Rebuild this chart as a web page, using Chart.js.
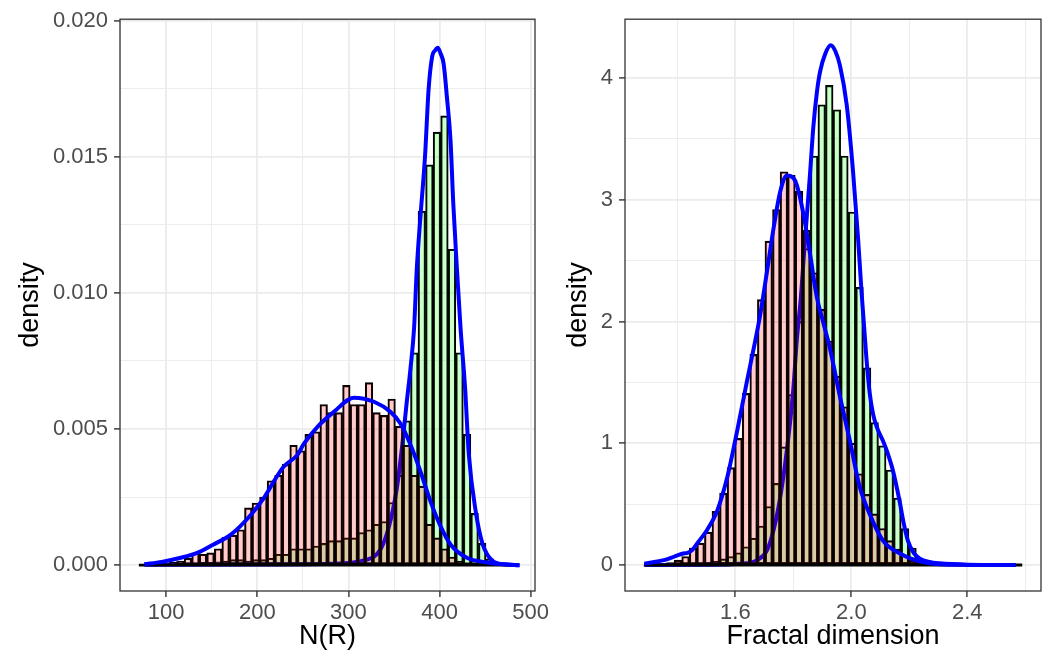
<!DOCTYPE html>
<html>
<head>
<meta charset="utf-8">
<script src="https://cdn.jsdelivr.net/npm/chart.js@4.4.1/dist/chart.umd.min.js"></script>
<style>
  body { margin: 0; background: #fff; }
  #wrap { position: relative; width: 1047px; height: 659px; }
  #left { position: absolute; left: 0; top: 0; }
  #right { position: absolute; left: 558px; top: 0; }
</style>
</head>
<body>
<div id="wrap">
  <canvas id="left" width="558" height="659"></canvas>
  <canvas id="right" width="489" height="659"></canvas>
</div>
<script>
// ---- N(R) panel ----
const nrBinStart = 70;
const nrBinWidth = 8.28;
const nrRed = [0, 0, 0, 0.00005, 0.0001, 0.00015, 0.00025, 0.00044, 0.0004, 0.00045,
  0.0006, 0.00102, 0.0011, 0.0013, 0.0021, 0.00228, 0.0025, 0.0031, 0.0033, 0.0037,
  0.0044, 0.0042, 0.0048, 0.0049, 0.0059, 0.0056, 0.0056, 0.0066, 0.0059, 0.0059,
  0.0067, 0.0056, 0.0055, 0.0061, 0.0051, 0.0044, 0.0033, 0.0029, 0.0015, 0.001,
  0.0006, 0.0003, 0.00015, 0.00005, 0, 0, 0, 0, 0, 0];
const nrGreen = [0, 0, 0, 0, 0.00002, 0.00003, 0.00005, 0.00007, 0.0001, 0.0001,
  0.00012, 0.00015, 0.0002, 0.0002, 0.00015, 0.0002, 0.0002, 0.00025, 0.0004, 0.0004,
  0.0006, 0.0006, 0.0006, 0.0007, 0.0008, 0.0009, 0.0009, 0.001, 0.001, 0.0012,
  0.0013, 0.0015, 0.0016, 0.0023, 0.0033, 0.0053, 0.0078, 0.013, 0.0147, 0.0159,
  0.0165, 0.0116, 0.0078, 0.0048, 0.0019, 0.0008, 0.00023, 0.00003, 0, 0];
const nrRedDensX = [76, 95, 116, 134, 152, 171, 193, 207, 218, 229, 244, 251, 266, 284,
  306, 328, 346, 357, 368, 379, 390, 401, 412, 430, 452, 470, 487];
const nrRedDensY = [0.00003, 0.00012, 0.00027, 0.00045, 0.00076, 0.00112, 0.00185, 0.00246,
  0.00307, 0.00362, 0.00405, 0.00445, 0.00508, 0.00563, 0.00615, 0.006, 0.00563, 0.0052,
  0.00443, 0.00344, 0.00234, 0.00143, 0.00076, 0.00027, 0.0001, 0.00003, 0];
const nrGreenDensX = [76, 200, 280, 320, 335, 344, 353, 359, 364, 368, 372, 375, 379, 384,
  388, 392, 395, 398, 401, 404.5, 408, 412, 415, 419, 423, 428, 432, 440, 447, 458, 473, 488];
const nrGreenDensY = [0.00001, 0.00002, 0.00005, 0.0002, 0.00057, 0.00136, 0.0028, 0.0044,
  0.006, 0.0072, 0.0087, 0.0109, 0.0128, 0.015, 0.0175, 0.0187, 0.0189, 0.019, 0.0188,
  0.0184, 0.0172, 0.0156, 0.0133, 0.0109, 0.0087, 0.0065, 0.0041, 0.0019, 0.0008,
  0.00016, 0.00002, 0];
const nrMajorX = [100, 200, 300, 400, 500];
const nrMinorX = [50, 150, 250, 350, 450];
const nrMajorY = [0, 0.005, 0.01, 0.015, 0.02];
const nrMinorY = [0.0025, 0.0075, 0.0125, 0.0175];

// ---- Fractal dimension panel ----
const fdBinStart = 1.2845;
const fdBinWidth = 0.0261;
const fdRed = [0, 0.005, 0.01, 0.02, 0.04, 0.07, 0.14, 0.18, 0.27, 0.44,
  0.59, 0.8, 1.04, 1.41, 1.73, 2.18, 2.66, 2.92, 3.23, 3.2,
  3.07, 2.75, 2.4, 2.1, 1.84, 1.55, 1.3, 1.0, 0.75, 0.58,
  0.42, 0.3, 0.2, 0.13, 0.08, 0.04, 0.02, 0.01, 0.005, 0,
  0, 0, 0, 0, 0, 0, 0, 0, 0, 0];
const fdGreen = [0, 0, 0, 0, 0, 0.005, 0.01, 0.015, 0.02, 0.03,
  0.05, 0.07, 0.1, 0.15, 0.22, 0.32, 0.48, 0.67, 0.97, 1.4,
  2.0, 2.6, 3.36, 3.78, 3.94, 3.74, 3.36, 2.9, 2.28, 1.62,
  1.17, 0.98, 0.78, 0.55, 0.3, 0.14, 0.05, 0.015, 0.005, 0,
  0, 0, 0, 0, 0, 0, 0, 0, 0, 0];
const fdRedDensX = [1.286, 1.32, 1.354, 1.38, 1.4, 1.42, 1.435, 1.45, 1.469, 1.503, 1.538,
  1.572, 1.606, 1.64, 1.665, 1.686, 1.709, 1.732, 1.755, 1.778, 1.8, 1.812, 1.835, 1.858,
  1.881, 1.9, 1.926, 1.961, 1.995, 2.029, 2.063, 2.109, 2.166, 2.235, 2.304, 2.4, 2.567];
const fdRedDensY = [0.01, 0.025, 0.04, 0.06, 0.08, 0.095, 0.1, 0.12, 0.18, 0.29, 0.45,
  0.72, 1.1, 1.51, 1.8, 2.06, 2.41, 2.77, 3.07, 3.2, 3.18, 3.12, 2.88, 2.55,
  2.2, 2.02, 1.78, 1.38, 1.02, 0.64, 0.42, 0.2, 0.096, 0.03, 0.006, 0.001, 0];
const fdGreenDensX = [1.286, 1.5, 1.617, 1.675, 1.709, 1.732, 1.755, 1.778, 1.8, 1.812, 1.826,
  1.835, 1.846, 1.858, 1.869, 1.881, 1.892, 1.91, 1.929, 1.945, 1.961, 1.984, 2.006, 2.023,
  2.035, 2.052, 2.063, 2.075, 2.09, 2.109, 2.125, 2.143, 2.166, 2.18, 2.195, 2.215, 2.235,
  2.27, 2.304, 2.4, 2.567];
const fdGreenDensY = [0, 0.002, 0.01, 0.04, 0.12, 0.29, 0.56, 0.95, 1.45, 1.85, 2.2,
  2.5, 2.85, 3.23, 3.6, 3.88, 4.05, 4.2, 4.27, 4.22, 4.1, 3.78, 3.23, 2.69,
  2.25, 1.7, 1.42, 1.24, 1.12, 1.02, 0.92, 0.78, 0.53, 0.35, 0.2, 0.1, 0.055,
  0.025, 0.014, 0.003, 0];
const fdMajorX = [1.6, 2.0, 2.4];
const fdMinorX = [1.4, 1.8, 2.2, 2.6];
const fdMajorY = [0, 1, 2, 3, 4];
const fdMinorY = [0.5, 1.5, 2.5, 3.5];

const FONT = "'Liberation Sans', Arial, sans-serif";

function binPoints(start, width, values) {
  return values.map((v, i) => ({ x: start + (i + 0.5) * width, y: v }));
}

function toPoints(xs, ys) {
  return xs.map((x, i) => ({ x: x, y: ys[i] }));
}

function isIn(list, v) {
  return list.some(m => Math.abs(m - v) < 1e-9);
}

// draws the dark panel frame on top of everything
const panelBorder = {
  id: 'panelBorder',
  afterDatasetsDraw(chart) {
    const a = chart.chartArea;
    const ctx = chart.ctx;
    ctx.save();
    ctx.strokeStyle = '#333333';
    ctx.lineWidth = 1.3;
    ctx.strokeRect(a.left, a.top, a.right - a.left, a.bottom - a.top);
    ctx.restore();
  }
};

function axisCfg(p, horizontal) {
  const major = horizontal ? p.majorX : p.majorY;
  const minor = horizontal ? p.minorX : p.minorY;
  const fmt = horizontal ? p.fmtX : p.fmtY;
  return {
    type: 'linear',
    min: horizontal ? p.xMin : p.yMin,
    max: horizontal ? p.xMax : p.yMax,
    offset: false,
    afterBuildTicks: s => {
      s.ticks = major.concat(minor).sort((a, b) => a - b).map(v => ({ value: v }));
    },
    afterFit: s => {
      if (horizontal) s.height = 68; else s.width = p.yAxisWidth;
    },
    grid: {
      offset: false,
      color: '#EBEBEB',
      lineWidth: c => isIn(major, c.tick.value) ? 1.8 : 0.9,
      tickLength: 6,
      tickWidth: 1.4,
      tickColor: c => isIn(major, c.tick.value) ? '#333333' : 'rgba(0,0,0,0)'
    },
    border: { display: false },
    ticks: {
      autoSkip: false,
      maxRotation: 0,
      padding: horizontal ? 3 : 6,
      color: '#4D4D4D',
      font: { family: FONT, size: 22 },
      callback: v => isIn(major, v) ? fmt(v) : ''
    },
    title: {
      display: true,
      text: horizontal ? p.xTitle : 'density',
      color: '#000000',
      font: { family: FONT, size: 27, lineHeight: 1.2 },
      padding: horizontal ? { top: 0, bottom: 6 } : { top: p.yTitlePad, bottom: 0 }
    }
  };
}

function makePanel(id, p) {
  const blue = { type: 'line', borderColor: '#0000FF', borderWidth: 4, pointRadius: 0,
    fill: false, cubicInterpolationMode: 'monotone' };
  const bar = { type: 'bar', borderColor: '#000000', borderWidth: 1.45, borderSkipped: false,
    grouped: false, barPercentage: 1, categoryPercentage: 1 };
  const nBins = p.red.length;
  const baseline = [{ x: p.binStart, y: 0 }, { x: p.binStart + nBins * p.binWidth, y: 0 }];

  return new Chart(document.getElementById(id).getContext('2d'), {
    type: 'bar',
    data: {
      datasets: [
        Object.assign({}, blue, { data: toPoints(p.redDensX, p.redDensY), order: 0 }),
        { type: 'line', data: baseline, borderColor: '#000000', borderWidth: 2.8, pointRadius: 0, order: 1 },
        Object.assign({}, bar, { data: binPoints(p.binStart, p.binWidth, p.red),
          backgroundColor: 'rgba(255,0,0,0.2)', order: 2 }),
        Object.assign({}, blue, { data: toPoints(p.greenDensX, p.greenDensY), order: 3 }),
        Object.assign({}, bar, { data: binPoints(p.binStart, p.binWidth, p.green),
          backgroundColor: 'rgba(0,255,0,0.2)', order: 4 })
      ]
    },
    options: {
      responsive: false,
      animation: false,
      layout: { padding: { top: 17, right: p.rightPad, bottom: 0, left: 0 } },
      plugins: { legend: { display: false }, tooltip: { enabled: false } },
      scales: { x: axisCfg(p, true), y: axisCfg(p, false) }
    },
    plugins: [panelBorder]
  });
}

makePanel('left', {
  binStart: nrBinStart, binWidth: nrBinWidth, red: nrRed, green: nrGreen,
  redDensX: nrRedDensX, redDensY: nrRedDensY, greenDensX: nrGreenDensX, greenDensY: nrGreenDensY,
  majorX: nrMajorX, minorX: nrMinorX, majorY: nrMajorY, minorY: nrMinorY,
  xMin: 49.3, xMax: 504.7, yMin: -0.00095, yMax: 0.02005,
  fmtX: v => String(v), fmtY: v => v.toFixed(3),
  xTitle: 'N(R)', yAxisWidth: 120, yTitlePad: 14, rightPad: 23
});

makePanel('right', {
  binStart: fdBinStart, binWidth: fdBinWidth, red: fdRed, green: fdGreen,
  redDensX: fdRedDensX, redDensY: fdRedDensY, greenDensX: fdGreenDensX, greenDensY: fdGreenDensY,
  majorX: fdMajorX, minorX: fdMinorX, majorY: fdMajorY, minorY: fdMinorY,
  xMin: 1.2193, xMax: 2.6542, yMin: -0.2135, yMax: 4.4835,
  fmtX: v => v.toFixed(1), fmtY: v => String(v),
  xTitle: 'Fractal dimension', yAxisWidth: 67, yTitlePad: 4, rightPad: 6
});
</script>
</body>
</html>
